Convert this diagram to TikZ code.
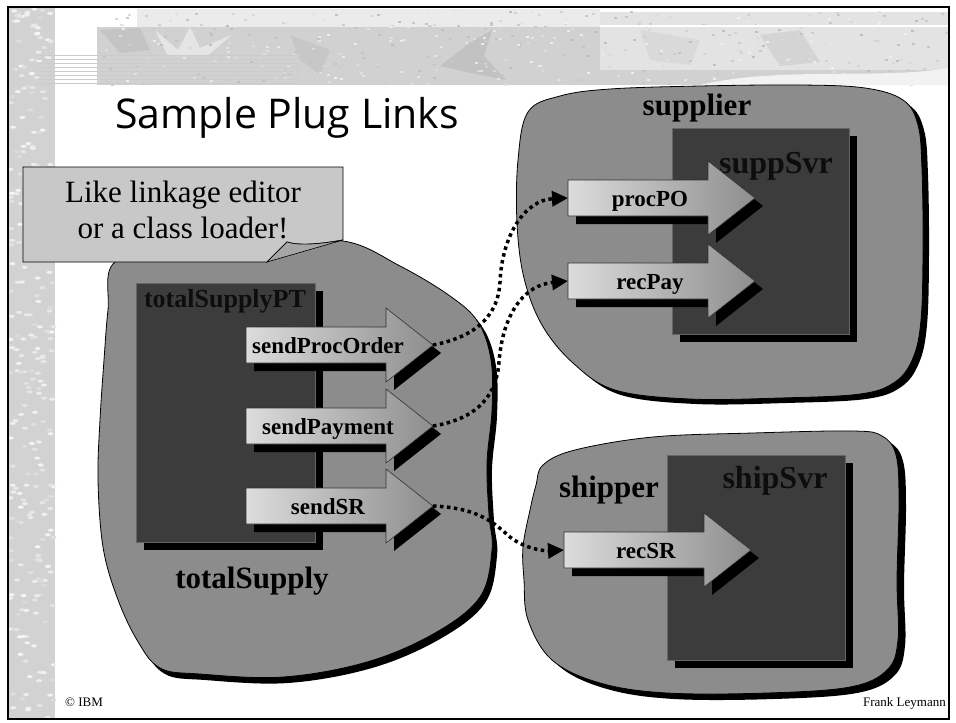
\documentclass[tikz,border=0pt]{standalone}
\usepackage{fontspec}
\setmainfont{Liberation Serif}
\newfontfamily\titlefont{Open Sans}
\usetikzlibrary{arrows.meta}
\definecolor{blobgray}{HTML}{8C8C8C}
\definecolor{boxgray}{HTML}{3C3C3C}
\definecolor{calloutgray}{HTML}{C8C8C8}
\definecolor{wedgegray}{HTML}{A6A6A6}
\definecolor{arrowL}{HTML}{DCDCDC}
\definecolor{arrowR}{HTML}{8E8E8E}
\definecolor{stripegray}{HTML}{D2D2D2}
\tikzset{
  blobshape/.style={fill=blobgray, draw=black, line width=0.8pt},
  darkbox/.style={fill=boxgray, draw=black!60, line width=0.6pt},
  arrowbody/.style={draw=black!80, line width=0.6pt, left color=arrowL, right color=arrowR},
  arrowlabel/.style={font=\bfseries\fontsize{23}{23}\selectfont, inner sep=0pt},
  boxtitle/.style={font=\bfseries\fontsize{32}{32}\selectfont, inner sep=0pt, text=black!95},
  regionlabel/.style={font=\bfseries\fontsize{31}{31}\selectfont, inner sep=0pt},
  dotlink/.style={line width=3.5pt, dash pattern=on 3.5pt off 3.5pt, -{Triangle[length=16pt,width=15pt]}},
  footer/.style={font=\fontsize{13}{13}\selectfont, inner sep=0pt}
}
\newcommand\blockarrow[4]{%
  \begin{scope}[shift={(#2,#3)}]
    \fill[black] (8,-10) -- (148,-10) -- (148,-29) -- (195,8) -- (148,45) -- (148,26) -- (8,26) -- cycle;
    \path[arrowbody] (0,-18) -- (140,-18) -- (140,-37) -- (187,0) -- (140,37) -- (140,18) -- (0,18) -- cycle;
    \coordinate (#1-tail) at (0,0);
    \coordinate (#1-tip) at (187,0);
    \node[arrowlabel, anchor=base] (#1) at (82,8) {#4};
  \end{scope}}
\newcommand\tsblobpath{plot[smooth cycle, tension=0.6] coordinates {(115,262) (180,252) (260,246) (343,241) (400,266) (450,296) (478,322) (491,360) (492,410) (487,463) (489,515) (492,550) (480,597) (435,633) (367,662) (283,677) (200,674) (160,668) (137,640) (117,597) (103,547) (98,480) (100,420) (104,360) (108,310)}}
\newcommand\supblobpath{plot[smooth cycle, tension=0.6] coordinates {(528,112) (560,96) (610,89) (700,86) (800,85) (865,88) (903,100) (918,125) (922,170) (923,250) (921,320) (913,358) (895,382) (860,394) (780,398) (690,399) (615,390) (573,363) (542,325) (524,278) (517,223) (518,160)}}
\newcommand\shipblobpath{plot[smooth cycle, tension=0.6] coordinates {(543,465) (575,450) (653,437) (753,433) (853,431) (882,436) (896,455) (899,500) (897,580) (898,640) (887,670) (850,687) (767,693) (667,693) (600,683) (552,660) (528,620) (524,580) (523,547) (530,510) (536,485)}}
\begin{document}
\begin{tikzpicture}[x=1pt, y=-1pt]
\useasboundingbox (0,0) rectangle (956,723);
\fill[white] (0,0) rectangle (956,723);
\pgfmathsetseed{11}
% left stripe (marble texture)
\fill[stripegray] (9,8) rectangle (55,719);
\foreach \i in {1,...,260} {
  \pgfmathsetmacro\xx{10+44*rnd}
  \pgfmathsetmacro\yy{9+709*rnd}
  \pgfmathtruncatemacro\gg{8+22*rnd}
  \fill[gray!\gg] (\xx,\yy) ellipse (3 and 1.6);
}
% banner
\fill[gray!16] (137,9) rectangle (600,27);
\fill[gray!36] (97,27) rectangle (949,85);
\fill[gray!22] (600,12) rectangle (949,70);
\fill[gray!46] (100,30) -- (140,28) -- (150,50) -- (120,53) -- cycle;
\fill[gray!20] (155,30) -- (178,50) -- (190,27) -- (200,48) -- (232,35) -- (207,56) -- (168,56) -- cycle;
\fill[gray!48] (440,66) -- (468,44) -- (492,30) -- (484,56) -- (506,80) -- (466,72) -- cycle;
\fill[gray!44] (290,35) -- (330,50) -- (320,75) -- (300,60) -- cycle;
\fill[gray!30] (640,30) -- (700,40) -- (690,65) -- (650,60) -- cycle;
\fill[gray!34] (760,35) -- (800,30) -- (820,62) -- (780,66) -- cycle;
\foreach \i in {1,...,450} {
  \pgfmathsetmacro\xx{98+850*rnd}
  \pgfmathsetmacro\yy{10+74*rnd}
  \pgfmathtruncatemacro\gg{12+40*rnd}
  \fill[gray!\gg] (\xx,\yy) rectangle ++(3,2);
}
\draw[white, line width=1.5pt] (600,26) -- (949,26);
\fill[gray!10] (700,85) .. controls (780,66) and (880,80) .. (949,68) -- (949,85) -- cycle;
\foreach \yy in {55,59,...,83} \draw[gray!40, line width=1pt] (38,\yy) -- (300,\yy);
% frame
\draw[line width=2pt] (8,7) rectangle (949,719);
% title
\node[anchor=base west, font=\titlefont\fontsize{41}{41}\selectfont, inner sep=0pt] (title) at (115,128) {Sample Plug Links};
% blobs
\begin{scope}[shift={(5,6)}] \fill[black] \tsblobpath; \end{scope}
\path[blobshape] \tsblobpath;
\begin{scope}[shift={(6,5)}] \fill[black] \supblobpath; \end{scope}
\path[blobshape] \supblobpath;
\begin{scope}[shift={(7,6)}] \fill[black] \shipblobpath; \end{scope}
\path[blobshape] \shipblobpath;
% callout
\path[fill=calloutgray, draw=black, line width=0.8pt] (23,167) -- (343,167) -- (343,240) .. controls (320,244) and (300,246) .. (287,242) -- (267,262) -- (23,262) -- cycle;
\path[fill=wedgegray, draw=black, line width=0.6pt] (287,242) .. controls (300,246) and (320,244) .. (343,240) -- (267,262) -- cycle;
\node[font=\fontsize{31}{36}\selectfont, align=center, anchor=base, inner sep=0pt] (callout) at (183,238) {Like linkage editor\\or a class loader!};
% region labels
\node[regionlabel, anchor=base] (totalSupply) at (252,588) {totalSupply};
\node[regionlabel, anchor=base] (supplier) at (697,115) {supplier};
\node[regionlabel, anchor=base] (shipper) at (609,497) {shipper};
% dark boxes
\fill[black] (144,291) rectangle (323,550);
\path[darkbox] (136,283) rectangle (315,542);
\node[font=\bfseries\fontsize{26}{26}\selectfont, inner sep=0pt, anchor=base, text=black!95] (totalSupplyPT) at (225,307) {totalSupplyPT};
\fill[black] (680,136) rectangle (857,342);
\path[darkbox] (672,128) rectangle (849,334);
\node[boxtitle, anchor=base] (suppSvr) at (776,173) {suppSvr};
\fill[black] (675,463) rectangle (853,668);
\path[darkbox] (667,455) rectangle (845,660);
\node[boxtitle, anchor=base] (shipSvr) at (775,488) {shipSvr};
% block arrows
\blockarrow{sendProcOrder}{246}{345}{sendProcOrder}
\blockarrow{sendPayment}{246}{426}{sendPayment}
\blockarrow{sendSR}{246}{506}{sendSR}
\blockarrow{procPO}{568}{198}{procPO}
\blockarrow{recPay}{568}{281}{recPay}
\blockarrow{recSR}{564}{550}{recSR}
% links
\draw[dotlink] (sendProcOrder-tip) .. controls (470,338) and (498,320) .. (500,282) .. controls (502,235) and (525,200) .. (procPO-tail);
\draw[dotlink] (sendPayment-tip) .. controls (470,420) and (496,402) .. (499,362) .. controls (503,312) and (525,285) .. (recPay-tail);
\draw[dotlink] (sendSR-tip) .. controls (480,508) and (495,524) .. (510,537) .. controls (525,549) and (545,551) .. (recSR-tail);
% footer
\node[footer, anchor=base west] (ibm) at (65,706) {© IBM};
\node[footer, anchor=base east] (author) at (946,706) {Frank Leymann};
\end{tikzpicture}
\end{document}
